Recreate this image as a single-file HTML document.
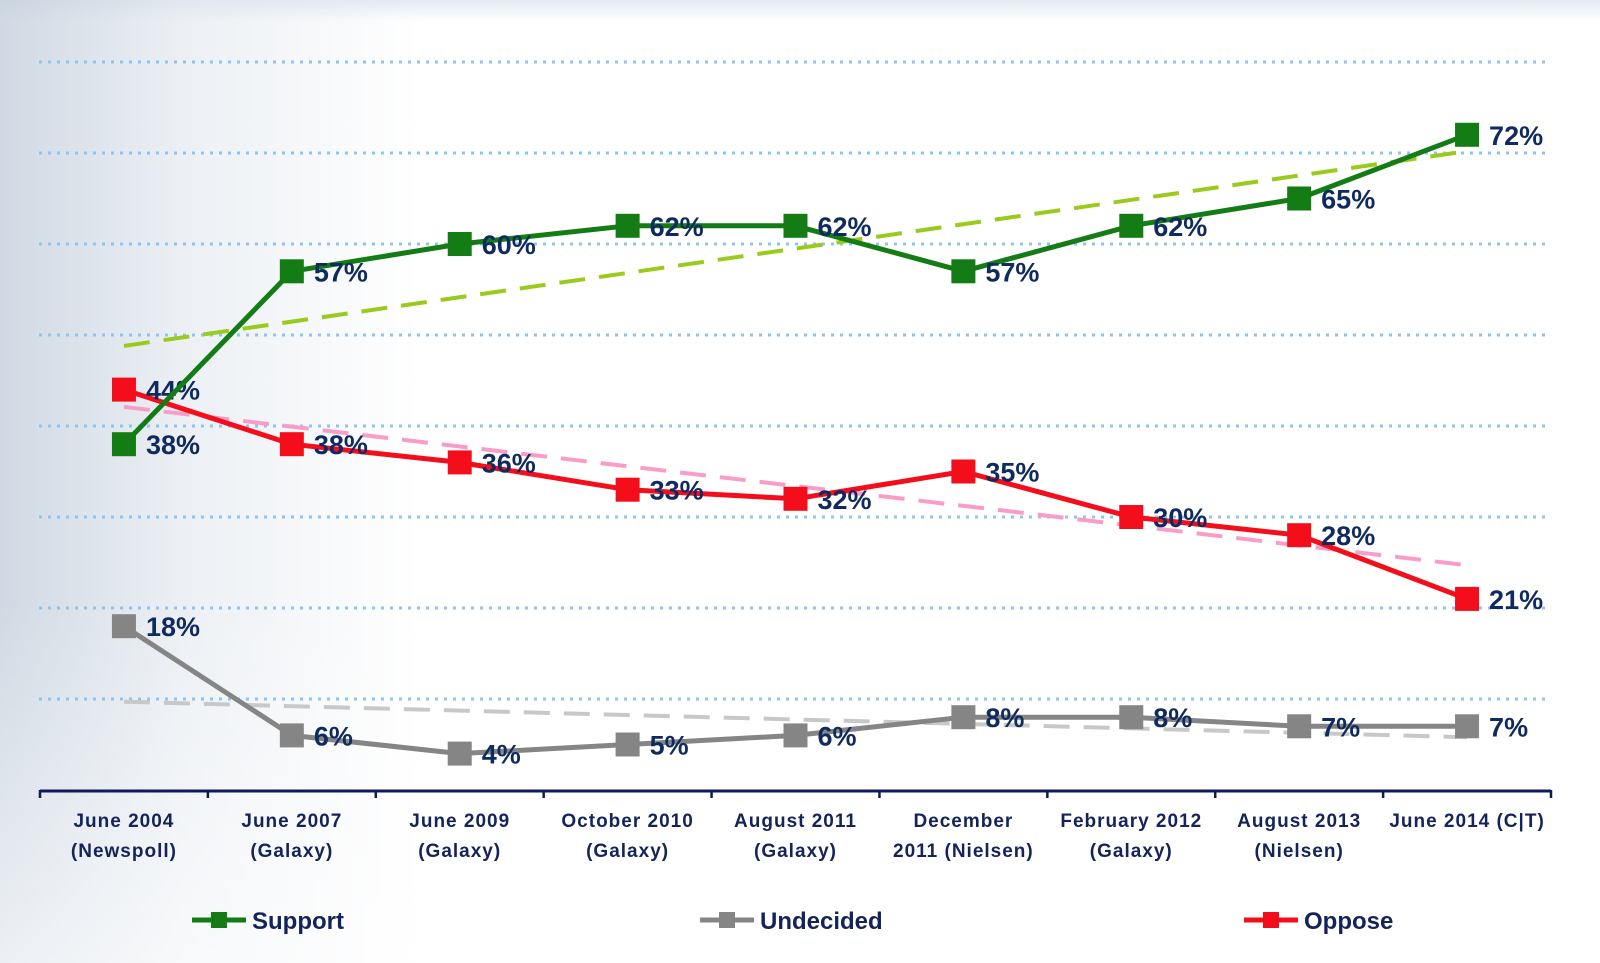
<!DOCTYPE html>
<html><head><meta charset="utf-8"><style>
html,body{margin:0;padding:0;}
body{width:1600px;height:963px;overflow:hidden;background:#fff;font-family:"Liberation Sans",sans-serif;}
#bg{position:absolute;left:0;top:0;width:1600px;height:963px;
background:linear-gradient(180deg,rgba(255,255,255,0) 0,rgba(255,255,255,0) 600px,rgba(255,255,255,0.6) 963px),linear-gradient(90deg,rgba(196,207,220,0.8) 0px,rgba(220,227,235,0.55) 180px,rgba(255,255,255,0) 420px),linear-gradient(180deg,#e3ebf3 0,#fff 22px);}
svg{position:absolute;left:0;top:0;}
</style></head><body>
<div id="bg"></div>
<svg id="chart" width="1600" height="963"></svg>
<script>
const categories=[["June 2004","(Newspoll)"],["June 2007","(Galaxy)"],["June 2009","(Galaxy)"],["October 2010","(Galaxy)"],["August 2011","(Galaxy)"],["December","2011 (Nielsen)"],["February 2012","(Galaxy)"],["August 2013","(Nielsen)"],["June 2014 (C|T)",""]];
const support=[38,57,60,62,62,57,62,65,72];
const undecided=[18,6,4,5,6,8,8,7,7];
const oppose=[44,38,36,33,32,35,30,28,21];
const supportTrend=[48.8,70.2];
const undecidedTrend=[9.7,5.8];
const opposeTrend=[42.1,24.7];
const gridValues=[10,20,30,40,50,60,70,80];

const NS="http://www.w3.org/2000/svg";
const svg=document.getElementById('chart');
const axL=40,axR=1551,y0=790,pp=9.1;
const step=(axR-axL)/categories.length;
const X=i=>axL+step*(i+0.5);
const Y=v=>y0-v*pp;
function mk(tag,attrs,parent){const e=document.createElementNS(NS,tag);for(const k in attrs)e.setAttribute(k,attrs[k]);(parent||svg).appendChild(e);return e;}

gridValues.forEach(v=>{
  const g=mk('line',{x1:39,x2:1546,y1:Y(v),y2:Y(v),stroke:'#8cc4f6','stroke-width':3,'stroke-dasharray':'3 6'});
  
  
});
const ax=mk('line',{x1:axL,x2:axR,y1:y0+1,y2:y0+1,stroke:'#0f1a5a','stroke-width':3});


for(let i=0;i<=categories.length;i++){
  const t=mk('line',{x1:axL+step*i,x2:axL+step*i,y1:y0,y2:y0+8,stroke:'#0f1a5a','stroke-width':2.5});
  
  
}
categories.forEach((c,i)=>{
  c.forEach((ln,j)=>{
    if(!ln)return;
    const t=mk('text',{x:X(i),y:827+j*30,'text-anchor':'middle','font-size':19,'font-weight':'bold',fill:'#14245a','letter-spacing':'1'});
    t.textContent=ln;
    
    
  });
});
function trend(vals,color,name){
  const l=mk('line',{x1:X(0),y1:Y(vals[0]),x2:X(8),y2:Y(vals[1]),stroke:color,'stroke-width':4,'stroke-dasharray':'26 14'});
  
  
}
trend(supportTrend,'#9acb1c','support-trendline');
trend(opposeTrend,'#f99cc8','oppose-trendline');
trend(undecidedTrend,'#c8c8c8','undecided-trendline');

function series(vals,color,name){
  const p=mk('polyline',{points:vals.map((v,i)=>X(i)+','+Y(v)).join(' '),fill:'none',stroke:color,'stroke-width':5,'stroke-linejoin':'round'});
  
  
  vals.forEach((v,i)=>{
    const r=mk('rect',{x:X(i)-12,y:Y(v)-12,width:24,height:24,fill:color});
    
    
    const t=mk('text',{x:X(i)+22,y:Y(v)+10,'font-size':27,'font-weight':'bold',fill:'#0f2a5e'});
    t.textContent=v+'%';
    
    
  });
}
series(undecided,'#858585','undecided');
series(oppose,'#f40d1a','oppose');
series(support,'#137c14','support');

[['Support','#137c14',192],['Undecided','#858585',700],['Oppose','#f40d1a',1244]].forEach(([n,c,x])=>{
  const g=mk('g',{});
  
  
  mk('line',{x1:x,x2:x+54,y1:920,y2:920,stroke:c,'stroke-width':5},g);
  mk('rect',{x:x+19,y:912,width:16,height:16,fill:c},g);
  const t=mk('text',{x:x+60,y:929,'font-size':24,'font-weight':'bold',fill:'#14245a'},g);
  t.textContent=n;
});
</script>
</body></html>
